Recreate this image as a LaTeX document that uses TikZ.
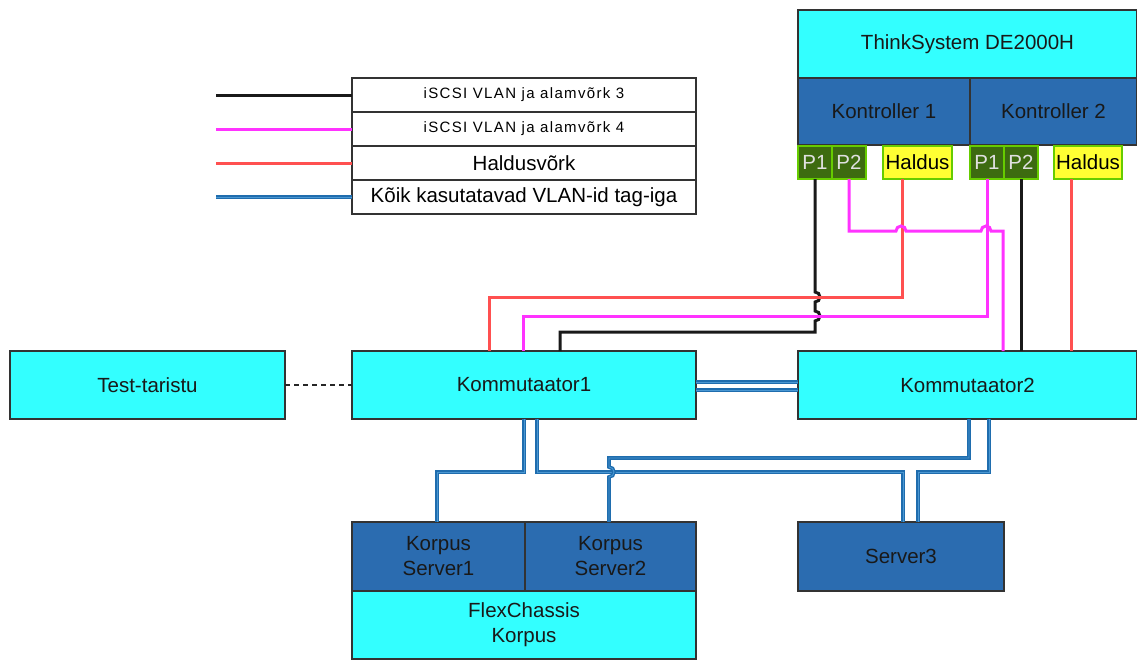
\documentclass[tikz,border=0pt]{standalone}
\usepackage{fontspec}
\setmainfont{Liberation Sans}
\newfontfamily\legfont[LetterSpace=9]{Liberation Sans}
\usetikzlibrary{positioning,calc}
\definecolor{cyanbox}{HTML}{33FFFF}
\definecolor{darkbox}{HTML}{2B6CB0}
\definecolor{portgreen}{HTML}{3D6B10}
\definecolor{portedge}{HTML}{66CC00}
\definecolor{portyellow}{HTML}{FFFF33}
\definecolor{edge}{HTML}{333333}
\definecolor{wmagenta}{HTML}{FF33FF}
\definecolor{wredc}{HTML}{FF5050}
\definecolor{wblue}{HTML}{1F6DAE}
\definecolor{wbluein}{HTML}{4A97D2}

\begin{document}
\begin{tikzpicture}[
  x=1pt,y=1pt,
  font=\fontsize{20.5}{25}\selectfont,
  box/.style={draw=edge,line width=1.6pt,fill=cyanbox,outer sep=0pt,inner sep=2pt,
              align=center,text=black!90},
  ctl/.style={box,fill=darkbox},
  port/.style={draw=portedge,line width=1.6pt,fill=portgreen,outer sep=0pt,inner sep=0pt,
               minimum height=33pt,minimum width=34pt,text=white!88!black},
  hport/.style={port,fill=portyellow,text=black,minimum width=69pt},
  leg/.style={draw=edge,line width=1.3pt,fill=white,outer sep=0pt,inner sep=0pt,
              minimum width=344pt,minimum height=34pt},
  wblk/.style={draw=black!90,line width=3pt},
  wmag/.style={draw=wmagenta,line width=3pt},
  wred/.style={draw=wredc,line width=3pt},
  wblu/.style={draw=wblue,line width=1.4pt,double=wbluein,double distance=0.9pt},
]
  \useasboundingbox (0,0) rectangle (1137,-662);

  % storage
  \node[box,minimum width=339pt,minimum height=68pt] (ds) at (967.5,-44) {ThinkSystem DE2000H};
  \node[ctl,anchor=north west,minimum width=172pt,minimum height=67pt] (ctl1) at (ds.south west) {Kontroller 1};
  \node[ctl,right=0pt of ctl1,minimum width=167pt,minimum height=67pt] (ctl2) {Kontroller 2};
  \node[port,anchor=north west] (p11) at ([yshift=-1pt]ctl1.south west) {P1};
  \node[port,right=0pt of p11] (p12) {P2};
  \node[hport,right=17pt of p12] (h1) {Haldus};
  \node[port,anchor=north west] (p21) at ([yshift=-1pt]ctl2.south west) {P1};
  \node[port,right=0pt of p21] (p22) {P2};
  \node[hport,right=16pt of p22,minimum width=68pt] (h2) {Haldus};

  % legend
  \node[leg,anchor=north west] (leg1) at (352,-78) {\legfont\fontsize{15}{17}\selectfont iSCSI VLAN ja alamvõrk 3};
  \node[leg,below=0pt of leg1] (leg2) {\legfont\fontsize{15}{17}\selectfont iSCSI VLAN ja alamvõrk 4};
  \node[leg,below=0pt of leg2] (leg3) {Haldusvõrk};
  \node[leg,below=0pt of leg3] (leg4) {Kõik kasutatavad VLAN-id tag-iga};
  \coordinate (l1) at (216,-95);
  \coordinate (l2) at (216,-129);
  \coordinate (l3) at (216,-163);
  \coordinate (l4) at (216,-197);
  \draw[wblk] (l1) -- (leg1.west);
  \draw[wmag] (l2) -- (leg2.west);
  \draw[wred] (l3) -- (leg3.west);
  \draw[wblu] (l4) -- (leg4.west);

  % switches
  \node[box,minimum width=275pt,minimum height=68pt] (tt) at (147.5,-385) {Test-taristu};
  \node[box,minimum width=344pt,minimum height=68pt] (kom1) at (524,-385) {Kommutaator1};
  \node[box,minimum width=339pt,minimum height=68pt] (kom2) at (967.5,-385) {Kommutaator2};

  % servers
  \node[ctl,anchor=north west,minimum width=173pt,minimum height=69pt] (srv1) at (352,-522) {Korpus\\Server1};
  \node[ctl,right=0pt of srv1,minimum width=171pt,minimum height=69pt] (srv2) {Korpus\\Server2};
  \node[box,anchor=north west,minimum width=344pt,minimum height=68pt] (flex) at (srv1.south west) {FlexChassis\\Korpus};
  \node[ctl,minimum width=206pt,minimum height=69pt] (srv3) at (901,-556.5) {Server3};

  % iSCSI and management
  \draw[wblk] (p11.south) -- ++(0,-113) arc[start angle=90,end angle=-90,radius=5pt]
    -- ++(0,-9) arc[start angle=90,end angle=-90,radius=5pt]
    -- ++(0,-11) -| ([xshift=36pt]kom1.north);
  \draw[wred] ([xshift=-15.5pt]h1.south) -- ++(0,-118) -| ([xshift=-35pt]kom1.north);
  \draw[wmag] (p12.south) -- ++(0,-52) -- ++(47,0) arc[start angle=180,end angle=0,radius=5pt]
    -- ++(75,0) arc[start angle=180,end angle=0,radius=5pt]
    -| ([xshift=35.5pt]kom2.north);
  \draw[wmag] (p21.south) -- ++(0,-137) -| ([xshift=-1pt]kom1.north);
  \draw[wblk] (p22.south) -- (p22.south |- kom2.north);
  \draw[wred] ([xshift=-17pt]h2.south) -- ([xshift=-17pt]h2.south |- kom2.north);

  % data links
  \draw[black!85,line width=1.3pt,dash pattern=on 5pt off 4pt] (tt.east) -- (kom1.west);
  \draw[wblu] ([yshift=3pt]kom1.east) -- ([yshift=3pt]kom2.west);
  \draw[wblu] ([yshift=-5pt]kom1.east) -- ([yshift=-5pt]kom2.west);
  \draw[wblu] (kom1.south) -- ++(0,-53) -| ([xshift=-1.5pt]srv1.north);
  \draw[wblu] ([xshift=13pt]kom1.south) -- ++(0,-53) -| ([xshift=2pt]srv3.north);
  \draw[wblu] ([xshift=1.5pt]kom2.south) -- ++(0,-39) -- ++(-360,0) -- ++(0,-9)
    arc[start angle=90,end angle=-90,radius=5pt] -- ([xshift=-1.5pt]srv2.north);
  \draw[wblu] ([xshift=21.5pt]kom2.south) -- ++(0,-53) -| ([xshift=17pt]srv3.north);
\end{tikzpicture}
\end{document}
